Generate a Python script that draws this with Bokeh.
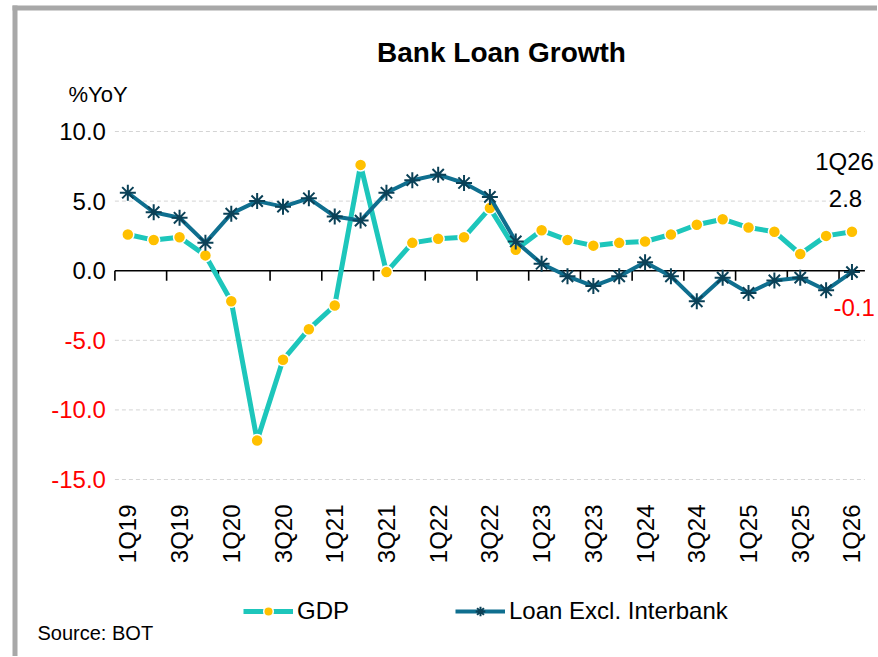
import math
from bokeh.plotting import figure
from bokeh.models import Legend, LegendItem
from bokeh.core.properties import value
from bokeh.embed import file_html
from bokeh.resources import INLINE

quarters = ["1Q19", "2Q19", "3Q19", "4Q19", "1Q20", "2Q20", "3Q20", "4Q20",
            "1Q21", "2Q21", "3Q21", "4Q21", "1Q22", "2Q22", "3Q22", "4Q22",
            "1Q23", "2Q23", "3Q23", "4Q23", "1Q24", "2Q24", "3Q24", "4Q24",
            "1Q25", "2Q25", "3Q25", "4Q25", "1Q26"]
gdp = [2.6, 2.2, 2.4, 1.1, -2.2, -12.2, -6.4, -4.2, -2.5, 7.6, -0.1, 2.0,
       2.3, 2.4, 4.5, 1.5, 2.9, 2.2, 1.8, 2.0, 2.1, 2.6, 3.3, 3.7,
       3.1, 2.8, 1.2, 2.5, 2.8]
loan = [5.6, 4.2, 3.8, 2.0, 4.1, 5.0, 4.6, 5.2, 3.9, 3.6, 5.6, 6.5,
        6.9, 6.3, 5.3, 2.1, 0.5, -0.4, -1.1, -0.4, 0.6, -0.4, -2.2, -0.5,
        -1.6, -0.7, -0.5, -1.4, -0.1]
y_ticks = [-15, -10, -5, 0, 5, 10]
x_tick_idx = list(range(0, len(quarters), 2))

FONT = "Liberation Sans"
GDP_LINE = "#1dc6bb"
GDP_MARK = "#ffc000"
LOAN_LINE = "#0f6f8f"
LOAN_MARK = "#0b4157"
NEG = "#ff0000"
FRAME = "#a8a8a8"

# ---- geometry (canvas px; the canvas starts at the page's top-left) ----
W, H = 877, 656
FR_L, FR_T = 114.4, 131.0     # data area inside the canvas
FR_W, FR_H = 750.0, 348.0
XMIN, XMAX = -0.5, len(quarters) - 0.5
YMIN, YMAX = min(y_ticks), max(y_ticks)
sx = FR_W / (XMAX - XMIN)
sy = FR_H / (YMAX - YMIN)
x_range = (XMIN - FR_L / sx, XMAX + (W - FR_L - FR_W) / sx)
y_range = (YMIN - (H - FR_T - FR_H) / sy, YMAX + FR_T / sy)


def dx(px):
    return XMIN + (px - FR_L) / sx


def dy(py):
    return YMAX - (py - FR_T) / sy


xs = list(range(len(quarters)))

p = figure(width=W, height=H, x_range=x_range, y_range=y_range,
           x_axis_location=None, y_axis_location=None,
           output_backend="svg", toolbar_location=None,
           min_border=0, background_fill_color="white", border_fill_color="white",
           outline_line_color=None)
p.grid.visible = False

# frame lines of the original picture (left + top)
p.segment(x0=[dx(14.5)], x1=[dx(14.5)], y0=[dy(5)], y1=[y_range[0]],
          line_color=FRAME, line_width=5)
p.segment(x0=[dx(12)], x1=[x_range[1]], y0=[dy(7.5)], y1=[dy(7.5)],
          line_color=FRAME, line_width=5)

# dashed gridlines
grid = [t for t in y_ticks if t != 0]
p.segment(x0=[XMIN] * len(grid), x1=[XMAX] * len(grid), y0=grid, y1=grid,
          line_color="#d4d4d4", line_dash="4 3", line_width=1)

# category axis at zero with tick marks every two quarters
p.segment(x0=[XMIN], x1=[XMAX], y0=[0], y1=[0], line_color="black", line_width=1.6)
bounds = [i - 0.5 for i in x_tick_idx]
p.segment(x0=bounds, y0=[0] * len(bounds), x1=bounds, y1=[-10 / sy] * len(bounds),
          line_color="black", line_width=1.6)

# y tick labels
p.text(x=[XMIN] * len(y_ticks), y=y_ticks, text=[f"{t:.1f}" for t in y_ticks],
       x_offset=-9, text_align="right", text_baseline="middle",
       text_font=value(FONT), text_font_size=value("24px"),
       text_color=[NEG if t < 0 else "black" for t in y_ticks])

# x tick labels (rotated)
p.text(x=x_tick_idx, y=[dy(504)] * len(x_tick_idx), text=[quarters[i] for i in x_tick_idx],
       angle=math.pi / 2, text_align="right", text_baseline="middle",
       text_font=value(FONT), text_font_size=value("24px"), text_color="black")

# series
gl = p.line(xs, gdp, line_color=GDP_LINE, line_width=5)
gm = p.scatter(xs, gdp, marker="circle", size=12, fill_color=GDP_MARK,
               line_color="white", line_width=1.5)
ll = p.line(xs, loan, line_color=LOAN_LINE, line_width=4)
lm = p.scatter(xs, loan, marker="asterisk", size=16, line_color=LOAN_MARK, line_width=2)

# legend (location measured from the bottom-left of the canvas)
legend = Legend(items=[LegendItem(label="GDP", renderers=[gl, gm]),
                       LegendItem(label="Loan Excl. Interbank", renderers=[ll, lm])],
                orientation="horizontal", location=(243, H - 625),
                glyph_width=50, glyph_height=24, label_standoff=4, spacing=106,
                padding=6, margin=0, border_line_color=None, background_fill_alpha=0,
                label_text_font=FONT, label_text_font_size="24px", label_height=24,
                label_text_color="black")
p.add_layout(legend)

# texts
p.text(x=[dx(501)], y=[dy(52)], text=["Bank Loan Growth"], text_align="center",
       text_baseline="middle", text_font=value(FONT), text_font_size=value("28px"),
       text_font_style=value("bold"), text_color="black")
p.text(x=[dx(68)], y=[dy(94)], text=["%YoY"], text_align="left", text_baseline="middle",
       text_font=value(FONT), text_font_size=value("22px"), text_color="black")
p.text(x=[dx(37)], y=[dy(632)], text=["Source: BOT"], text_align="left",
       text_baseline="middle", text_font=value(FONT), text_font_size=value("20px"),
       text_color="black")
last = len(quarters) - 1
p.text(x=[dx(844)], y=[dy(161)], text=[quarters[last]], text_align="center",
       text_baseline="middle", text_font=value(FONT), text_font_size=value("24px"),
       text_color="black")
p.text(x=[dx(845)], y=[dy(198)], text=[f"{gdp[last]:.1f}"], text_align="center",
       text_baseline="middle", text_font=value(FONT), text_font_size=value("24px"),
       text_color="black")
p.text(x=[dx(833)], y=[dy(307)], text=[f"{loan[last]:.1f}"], text_align="left",
       text_baseline="middle", text_font=value(FONT), text_font_size=value("24px"),
       text_color=NEG)

open("out.html", "w").write(file_html(p, INLINE))
